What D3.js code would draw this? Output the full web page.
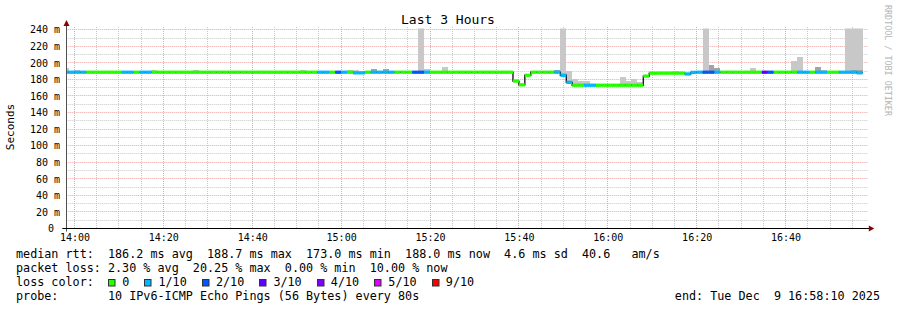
<!DOCTYPE html>
<html>
<head>
<meta charset="utf-8">
<script src="https://cdn.jsdelivr.net/npm/d3@7"></script>
<style>
  html, body { margin: 0; padding: 0; background: #fff; }
  svg { display: block; font-family: "DejaVu Sans Mono", monospace; }
  text { white-space: pre; }
</style>
</head>
<body>
<script>
// ---- data (one entry per 80 s probe step) ----
const stepSeconds = 80;
const tStart = new Date(2025, 11, 9, 13, 58, 10);
const tEnd = new Date(2025, 11, 9, 16, 58, 10);
const firstStepEnd = new Date(2025, 11, 9, 13, 58, 40);

// median rtt in ms
const medianMs = [
  188.7, 188.7, 188.7, 188.7, 188.7, 188.7, 188.7, 188.7, 188.7, 188.7,
  188.7, 188.7, 188.7, 188.7, 188.7, 188.7, 188.7, 188.7, 188.7, 188.7,
  188.7, 188.7, 188.7, 188.7, 188.7, 188.7, 188.7, 188.7, 188.7, 188.7,
  188.7, 188.7, 188.7, 188.7, 188.7, 188.7, 188.7, 188.7, 188.7, 188.7,
  188.7, 188.7, 188.7, 188.7, 188.7, 188.7, 188.7, 188.7, 188.7, 188.0,
  188.0, 188.7, 188.7, 188.7, 188.7, 188.7, 188.7, 188.7, 188.7, 188.7,
  188.7, 188.7, 188.7, 188.7, 188.7, 188.7, 188.7, 188.7, 188.7, 188.7,
  188.7, 188.7, 188.7, 188.7, 188.7, 188.7, 178.0, 173.5, 185.0, 188.7,
  188.7, 188.7, 188.7, 188.7, 185.0, 176.5, 173.0, 173.0, 173.0, 173.0,
  173.0, 173.0, 173.0, 173.0, 173.0, 173.0, 173.0, 173.0, 184.0, 187.6,
  187.6, 187.6, 187.6, 187.6, 187.6, 186.6, 188.5, 188.7, 188.7, 188.7,
  188.7, 188.7, 188.7, 188.7, 188.7, 188.7, 188.7, 188.7, 188.7, 188.7,
  188.7, 188.7, 188.7, 188.7, 188.7, 188.7, 188.7, 188.7, 188.7, 188.7,
  188.7, 188.7, 188.7, 188.7, 188.0, null
];

// lost pings out of 10
const lossTenths = [
  1, 1, 1, 1, 0, 0, 0, 0, 0, 0,
  1, 1, 0, 1, 1, 0, 0, 0, 0, 0,
  0, 0, 0, 0, 0, 0, 0, 0, 0, 0,
  0, 0, 0, 0, 0, 0, 0, 0, 0, 0,
  0, 0, 0, 1, 1, 0, 2, 1, 0, 1,
  1, 0, 1, 1, 1, 1, 0, 0, 0, 2,
  2, 1, 0, 0, 0, 0, 0, 0, 0, 0,
  0, 0, 0, 0, 0, 0, 0, 0, 0, 0,
  0, 0, 0, 1, 1, 1, 0, 0, 1, 1,
  0, 0, 0, 0, 0, 0, 0, 0, 0, 0,
  0, 0, 0, 0, 0, 1, 1, 1, 2, 2,
  1, 0, 0, 0, 0, 0, 0, 0, 3, 2,
  0, 0, 0, 0, 1, 1, 0, 1, 1, 0,
  0, 1, 1, 1, 1, null
];

// top of the light smoke (slowest ping), ms
const smokeLight = [
  193.5, null, 191.5, null, null, null, null, null, null, null,
  null, null, null, null, null, 191, null, null, null, null,
  null, null, 191, null, null, null, null, null, null, null,
  null, null, null, null, null, null, null, null, null, null,
  191, null, null, null, null, null, null, null, 191, 191,
  null, null, null, null, null, null, null, null, null, null,
  260, 192.6, null, null, 195, null, null, null, null, null,
  null, null, null, null, null, null, null, null, null, null,
  null, null, null, null, 260, 190, 181, 178, 178, null,
  null, null, null, null, 182.6, 178, 180.5, 177.5, null, null,
  null, null, null, 190.5, null, null, null, null, 260, null,
  null, 190, 190, null, null, null, 193.8, null, null, null,
  null, null, null, 202, 207, null, null, null, 191, null,
  null, null, 260, 260, 260, null
];

// top of the darker smoke band, ms
const smokeDark = [
  null, null, null, null, null, null, null, null, null, null,
  null, null, null, null, null, null, null, null, null, null,
  null, null, null, null, null, null, null, null, null, null,
  null, null, null, null, null, null, null, null, null, null,
  null, null, null, null, null, null, null, null, null, null,
  null, null, 192.6, null, 192.6, null, null, null, null, null,
  null, null, null, null, null, null, null, null, null, null,
  null, null, null, null, null, null, null, null, null, null,
  null, null, null, 191.4, null, null, null, null, null, null,
  null, null, null, null, null, null, null, null, null, null,
  null, null, null, null, null, null, null, null, null, 197.5,
  194, null, null, null, null, null, null, null, null, null,
  null, null, null, null, null, null, null, 195.4, null, null,
  null, null, null, 191, 191, null
];

const yTicks = [0, 20, 40, 60, 80, 100, 120, 140, 160, 180, 200, 220, 240];

const lossLabels = ["0", "1/10", "2/10", "3/10", "4/10", "5/10", "9/10"];
const lossLegendColors = ["#26ff00", "#00b8ff", "#0059ff", "#5e00ff", "#7e00ff", "#dd00ff", "#ff0000"];
// color used for each loss count 0..10
const lossColorByCount = ["#26ff00", "#00b8ff", "#0059ff", "#5e00ff", "#7e00ff", "#dd00ff",
                          "#dd00ff", "#dd00ff", "#dd00ff", "#ff0000", "#ff0000"];

const title = "Last 3 Hours";
const yLabel = "Seconds";
const watermark = "RRDTOOL / TOBI OETIKER";
const legendRows = [
  "median rtt:  186.2 ms avg  188.7 ms max  173.0 ms min  188.0 ms now  4.6 ms sd  40.6   am/s",
  "packet loss: 2.30 % avg  20.25 % max  0.00 % min  10.00 % now",
  "loss color:",
  "probe:       10 IPv6-ICMP Echo Pings (56 Bytes) every 80s"
];
const endLabel = "end: Tue Dec  9 16:58:10 2025";

// ---- layout ----
const W = 897, H = 310;
const plotLeft = 66.3, plotTop = 28.5, plotW = 800, plotH = 200;
const plotBottom = plotTop + plotH;
const legendFont = 11.76;
const charW = legendFont * 0.602;
const snap = v => Math.floor(v) + 0.5; // crisp 1px lines

const samples = medianMs.map((m, i) => ({
  te: new Date(+firstStepEnd + i * stepSeconds * 1000),
  ts: new Date(+firstStepEnd + (i - 1) * stepSeconds * 1000),
  m: m,
  loss: lossTenths[i],
  hi: smokeLight[i],
  lo: smokeDark[i]
}));
const valid = samples.filter(d => d.m !== null);

const x = d3.scaleTime().domain([tStart, tEnd]).range([plotLeft, plotLeft + plotW]);
const y = d3.scaleLinear().domain([0, 241.5]).range([plotBottom, plotTop]);

const svg = d3.select("body").append("svg")
  .attr("width", W)
  .attr("height", H);

svg.append("rect").attr("width", W).attr("height", H).attr("fill", "#fff");

svg.append("defs").append("clipPath").attr("id", "plotclip")
  .append("rect")
  .attr("x", plotLeft).attr("y", plotTop)
  .attr("width", plotW).attr("height", plotH);

// ---- grid ----
const grid = svg.append("g").attr("fill", "none").attr("stroke-dasharray", "1,1");
const minorColor = "#c8c8c8", majorColor = "#eda4a4";

const xMinor = d3.timeMinute.every(5).range(tStart, tEnd).filter(t => t.getMinutes() % 20 !== 0);
const xMajor = d3.timeMinute.every(20).range(tStart, tEnd);
const yMinor = d3.range(10, 241, 20);
const yMajor = yTicks.filter(v => v > 0);

grid.selectAll(".hmin").data(yMinor).enter().append("line")
  .attr("x1", plotLeft).attr("x2", plotLeft + plotW + 2)
  .attr("y1", d => snap(y(d))).attr("y2", d => snap(y(d)))
  .attr("stroke", minorColor);
grid.selectAll(".vmin").data(xMinor).enter().append("line")
  .attr("x1", d => snap(x(d))).attr("x2", d => snap(x(d)))
  .attr("y1", plotTop - 1.5).attr("y2", plotBottom)
  .attr("stroke", minorColor);
grid.selectAll(".hmaj").data(yMajor).enter().append("line")
  .attr("x1", plotLeft).attr("x2", plotLeft + plotW + 2)
  .attr("y1", d => snap(y(d))).attr("y2", d => snap(y(d)))
  .attr("stroke", majorColor);
grid.selectAll(".vmaj").data(xMajor).enter().append("line")
  .attr("x1", d => snap(x(d))).attr("x2", d => snap(x(d)))
  .attr("y1", plotTop - 1.5).attr("y2", plotBottom)
  .attr("stroke", majorColor);

// ---- data ----
const plot = svg.append("g").attr("clip-path", "url(#plotclip)");

// smoke
plot.selectAll(".smoke").data(valid.filter(d => d.hi !== null)).enter().append("rect")
  .attr("x", d => x(d.ts))
  .attr("width", d => x(d.te) - x(d.ts))
  .attr("y", d => y(d.hi))
  .attr("height", d => y(d.m) - y(d.hi))
  .attr("fill", "#c8c8c8")
  .attr("shape-rendering", "crispEdges");

plot.selectAll(".smokedark").data(valid.filter(d => d.lo !== null)).enter().append("rect")
  .attr("x", d => x(d.ts))
  .attr("width", d => x(d.te) - x(d.ts))
  .attr("y", d => y(d.lo))
  .attr("height", d => y(d.m) - y(d.lo))
  .attr("fill", "#a4a4a4")
  .attr("shape-rendering", "crispEdges");

// black median staircase
const stairPts = valid.map(d => [d.ts, d.m]);
stairPts.push([valid[valid.length - 1].te, valid[valid.length - 1].m]);
plot.append("path")
  .attr("d", d3.line().x(d => x(d[0])).y(d => y(d[1])).curve(d3.curveStepAfter)(stairPts))
  .attr("fill", "none")
  .attr("stroke", "#1a1a1a")
  .attr("stroke-width", 1.4);

// loss-colored median band
plot.selectAll(".band").data(valid).enter().append("rect")
  .attr("x", d => x(d.ts))
  .attr("width", d => x(d.te) - x(d.ts))
  .attr("y", d => y(d.m) - 1.65)
  .attr("height", 3.3)
  .attr("fill", d => lossColorByCount[d.loss]);

// ---- axes ----
const xAxis = svg.append("g")
  .attr("transform", "translate(0," + plotBottom + ")")
  .call(d3.axisBottom(x)
    .ticks(d3.timeMinute.every(20))
    .tickFormat(d3.timeFormat("%H:%M"))
    .tickSize(0)
    .tickPadding(5.5));
xAxis.select(".domain").remove();
xAxis.selectAll("text").attr("font-family", "DejaVu Sans Mono").attr("font-size", 10).attr("fill", "#000");

const yAxis = svg.append("g")
  .attr("transform", "translate(" + plotLeft + ",0)")
  .call(d3.axisLeft(y)
    .tickValues(yTicks)
    .tickFormat(v => v === 0 ? "0\u00a0" : v + " m")
    .tickSize(0)
    .tickPadding(6.3));
yAxis.select(".domain").remove();
yAxis.selectAll("text").attr("font-family", "DejaVu Sans Mono").attr("font-size", 10).attr("fill", "#000");

// axis lines with arrows
svg.append("line")
  .attr("x1", snap(plotLeft)).attr("x2", snap(plotLeft))
  .attr("y1", plotBottom + 3).attr("y2", plotTop - 4)
  .attr("stroke", "#505050");
svg.append("line")
  .attr("x1", plotLeft - 4).attr("x2", plotLeft + plotW + 3)
  .attr("y1", plotBottom).attr("y2", plotBottom)
  .attr("stroke", "#000").attr("stroke-width", 1.2);
svg.append("path")
  .attr("d", "M" + (snap(plotLeft) - 3) + "," + (plotTop - 2.5) + "L" + (snap(plotLeft) + 3) + "," + (plotTop - 2.5) + "L" + snap(plotLeft) + "," + (plotTop - 8.5) + "Z")
  .attr("fill", "#8b0000");
svg.append("path")
  .attr("d", "M" + (plotLeft + plotW + 2.5) + "," + (plotBottom - 3) + "L" + (plotLeft + plotW + 2.5) + "," + (plotBottom + 3) + "L" + (plotLeft + plotW + 8) + "," + plotBottom + "Z")
  .attr("fill", "#8b0000");

// ---- titles ----
svg.append("text")
  .attr("x", 448).attr("y", 24)
  .attr("text-anchor", "middle")
  .attr("font-size", 13)
  .attr("fill", "#000")
  .text(title);

svg.append("text")
  .attr("transform", "translate(14," + 127 + ") rotate(-90)")
  .attr("text-anchor", "middle")
  .attr("font-size", 11)
  .attr("fill", "#000")
  .text(yLabel);

svg.append("text")
  .attr("transform", "translate(884.5,5) rotate(90)")
  .attr("text-anchor", "start")
  .attr("font-size", 8.4)
  .attr("fill", "#b4b4b4")
  .text(watermark);

// ---- legend ----
const legendX = 16;
const rowY = [258, 272, 286, 300];
svg.selectAll(".leg").data(legendRows).enter().append("text")
  .attr("x", legendX)
  .attr("y", (d, i) => rowY[i])
  .attr("font-size", legendFont)
  .attr("fill", "#000")
  .text(d => d);

let cursor = legendX + 13 * charW;
lossLabels.forEach((lab, i) => {
  svg.append("rect")
    .attr("x", Math.round(cursor) + 0.5).attr("y", rowY[2] - 6.5)
    .attr("width", 6.5).attr("height", 6.5)
    .attr("fill", lossLegendColors[i])
    .attr("stroke", "#333");
  svg.append("text")
    .attr("x", cursor + 2 * charW)
    .attr("y", rowY[2])
    .attr("font-size", legendFont)
    .attr("fill", "#000")
    .text(lab);
  cursor += 2 * charW + lab.length * charW + 15;
});

svg.append("text")
  .attr("x", 880).attr("y", rowY[3])
  .attr("text-anchor", "end")
  .attr("font-size", legendFont)
  .attr("fill", "#000")
  .text(endLabel);
</script>
</body>
</html>
